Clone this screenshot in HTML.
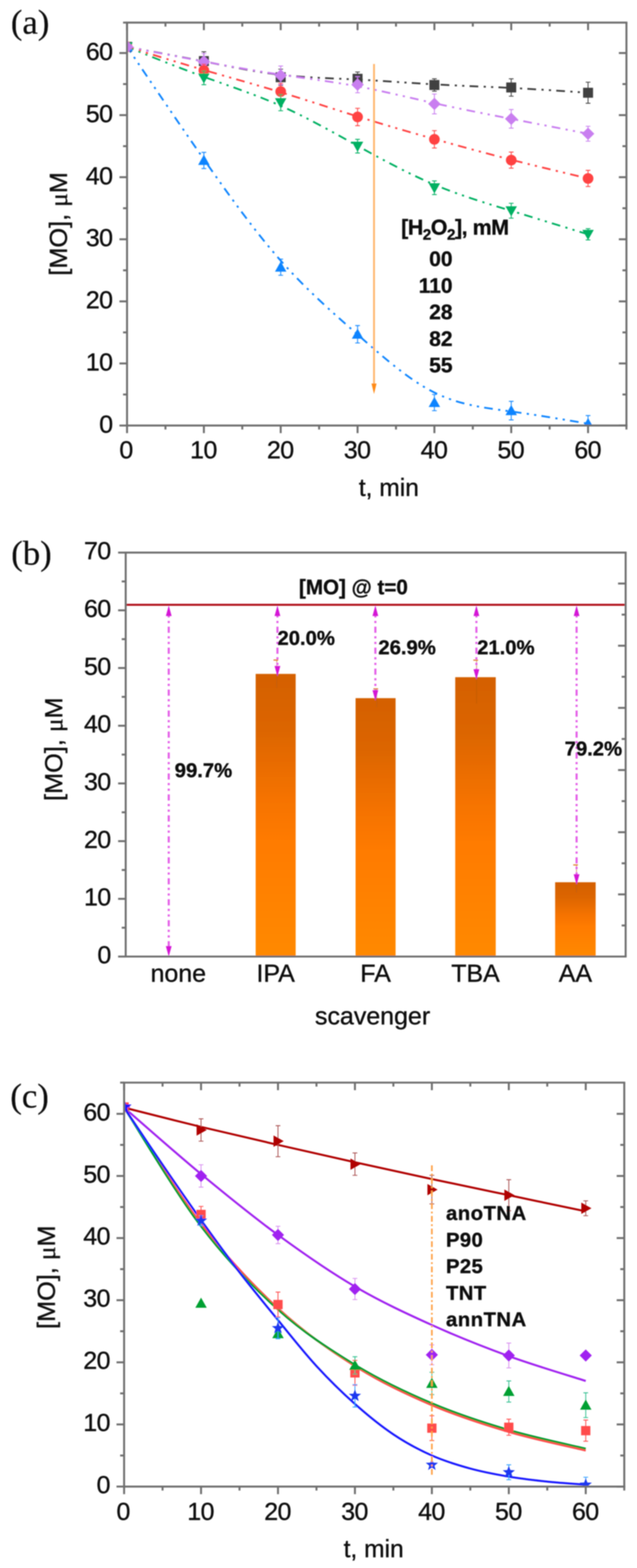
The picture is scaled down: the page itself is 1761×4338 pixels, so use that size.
<!DOCTYPE html>
<html lang="en"><head><meta charset="utf-8"><title>MO degradation figure</title>
<style>html,body{margin:0;padding:0;background:#fff}svg{display:block}</style></head><body>
<svg width="1761" height="4338" viewBox="0 0 1761 4338" role="img" aria-label="MO degradation charts">
<defs><linearGradient id="bar" x1="0" y1="0" x2="0" y2="1"><stop offset="0" stop-color="#d46000"/><stop offset="0.2" stop-color="#dc6500"/><stop offset="0.45" stop-color="#f67300"/><stop offset="0.6" stop-color="#ff7b00"/><stop offset="1" stop-color="#ff8900"/></linearGradient></defs>
<filter id="soft" filterUnits="userSpaceOnUse" x="0" y="0" width="1761" height="4338"><feGaussianBlur stdDeviation="1.4"/></filter>
<rect width="1761" height="4338" fill="#fff"/>
<g filter="url(#soft)">
<g id="chart-a">
<text x="30" y="93" font-family='"Liberation Serif", "Times New Roman", serif' font-size="96" font-weight="normal" text-anchor="start" fill="#0a0a0a"  stroke="#0a0a0a" stroke-width="0.5">(a)</text>
<clipPath id="clipA"><rect x="351.2" y="62.5" width="1380.6" height="1115.8"/></clipPath>
<g clip-path="url(#clipA)">
<path d="M351.2,129.5 C422,142.7 492.8,155.9 563.6,169.9 C634.4,183.9 705.2,198.8 776,207 C846.8,215.1 917.6,216.6 988.4,220.1 C1059.3,223.7 1130.1,229.4 1200.9,233.4 C1271.7,237.5 1342.5,239.7 1413.3,243.3 C1484.1,246.9 1554.9,251.8 1625.7,256.6" fill="none" stroke="#3f3f3f" stroke-width="5" stroke-dasharray="24 15 6 14.5 6 14.5" stroke-dashoffset="5"/>
<path d="M351.2,129.5 C422,143.3 492.8,157 563.6,170.2 C634.4,183.3 705.2,195.9 776,206.5 C846.8,217.1 917.6,225.7 988.4,238.9 C1059.3,252.1 1130.1,269.8 1200.9,285.5 C1271.7,301.3 1342.5,315 1413.3,328.8 C1484.1,342.5 1554.9,356.3 1625.7,370" fill="none" stroke="#c97ff0" stroke-width="5" stroke-dasharray="24 15 6 14.5 6 14.5" stroke-dashoffset="5"/>
<path d="M351.2,129.5 C422,151.3 492.8,173 563.6,193.6 C634.4,214.3 705.2,233.7 776,255.2 C846.8,276.7 917.6,300.1 988.4,322.2 C1059.3,344.2 1130.1,364.8 1200.9,384.7 C1271.7,404.6 1342.5,423.8 1413.3,441.9 C1484.1,459.9 1554.9,476.8 1625.7,493.7" fill="none" stroke="#ff4343" stroke-width="5" stroke-dasharray="24 15 6 14.5 6 14.5" stroke-dashoffset="5"/>
<path d="M351.2,129.5 C422,158.2 492.8,186.8 563.6,212.5 C634.4,238.3 705.2,261.2 776,292.7 C846.8,324.2 917.6,364.3 988.4,403.5 C1059.3,442.7 1130.1,481.1 1200.9,510.8 C1271.7,540.6 1342.5,561.8 1413.3,583.3 C1484.1,604.7 1554.9,626.5 1625.7,648.3" fill="none" stroke="#00b062" stroke-width="5" stroke-dasharray="24 15 6 14.5 6 14.5" stroke-dashoffset="5"/>
<path d="M351.2,129.5 C422,234.3 492.8,339.1 563.6,440.7 C634.4,542.3 705.2,640.8 776,721 C846.8,801.1 917.6,863 988.4,925.4 C1059.3,987.8 1130.1,1050.8 1200.9,1086 C1271.7,1121.2 1342.5,1128.6 1413.3,1138.4 C1484.1,1148.1 1554.9,1160.1 1625.7,1172.1" fill="none" stroke="#0a84ff" stroke-width="5" stroke-dasharray="24 15 6 14.5 6 14.5" stroke-dashoffset="5"/>
<rect x="337.4" y="115.7" width="27.6" height="27.6" fill="#3f3f3f"/>
<path d="M563.6,143.3 V194.8 M557.1,143.3 h13.0 M557.1,194.8 h13.0" stroke="#3f3f3f" stroke-width="2.4" fill="none"/>
<rect x="549.8" y="155.2" width="27.6" height="27.6" fill="#3f3f3f"/>
<path d="M776,191.4 V236 M769.5,191.4 h13.0 M769.5,236 h13.0" stroke="#3f3f3f" stroke-width="2.4" fill="none"/>
<rect x="762.2" y="199.9" width="27.6" height="27.6" fill="#3f3f3f"/>
<path d="M988.5,199.1 V236.9 M982,199.1 h13.0 M982,236.9 h13.0" stroke="#3f3f3f" stroke-width="2.4" fill="none"/>
<rect x="974.7" y="204.2" width="27.6" height="27.6" fill="#3f3f3f"/>
<path d="M1200.9,218 V252.3 M1194.4,218 h13.0 M1194.4,252.3 h13.0" stroke="#3f3f3f" stroke-width="2.4" fill="none"/>
<rect x="1187.1" y="221.4" width="27.6" height="27.6" fill="#3f3f3f"/>
<path d="M1413.3,218 V266.1 M1406.8,218 h13.0 M1406.8,266.1 h13.0" stroke="#3f3f3f" stroke-width="2.4" fill="none"/>
<rect x="1399.5" y="228.2" width="27.6" height="27.6" fill="#3f3f3f"/>
<path d="M1625.7,227.4 V285.8 M1619.2,227.4 h13.0 M1619.2,285.8 h13.0" stroke="#3f3f3f" stroke-width="2.4" fill="none"/>
<rect x="1611.9" y="242.8" width="27.6" height="27.6" fill="#3f3f3f"/>
<path d="M351.2,112.2 L368.5,129.5 L351.2,146.8 L333.9,129.5 Z" fill="#c97ff0"/>
<path d="M563.6,148.4 V193.1 M557.1,148.4 h13.0 M557.1,193.1 h13.0" stroke="#c97ff0" stroke-width="2.4" fill="none"/>
<path d="M563.6,153.4 L580.9,170.7 L563.6,188 L546.3,170.7 Z" fill="#c97ff0"/>
<path d="M776,182.8 V234.3 M769.5,182.8 h13.0 M769.5,234.3 h13.0" stroke="#c97ff0" stroke-width="2.4" fill="none"/>
<path d="M776,191.2 L793.3,208.5 L776,225.8 L758.7,208.5 Z" fill="#c97ff0"/>
<path d="M988.5,212 V256.6 M982,212 h13.0 M982,256.6 h13.0" stroke="#c97ff0" stroke-width="2.4" fill="none"/>
<path d="M988.5,217 L1005.8,234.3 L988.5,251.6 L971.2,234.3 Z" fill="#c97ff0"/>
<path d="M1200.9,260.1 V315 M1194.4,260.1 h13.0 M1194.4,315 h13.0" stroke="#c97ff0" stroke-width="2.4" fill="none"/>
<path d="M1200.9,270.2 L1218.2,287.5 L1200.9,304.8 L1183.6,287.5 Z" fill="#c97ff0"/>
<path d="M1413.3,303 V354.5 M1406.8,303 h13.0 M1406.8,354.5 h13.0" stroke="#c97ff0" stroke-width="2.4" fill="none"/>
<path d="M1413.3,311.5 L1430.6,328.8 L1413.3,346.1 L1396,328.8 Z" fill="#c97ff0"/>
<path d="M1625.7,349.4 V390.6 M1619.2,349.4 h13.0 M1619.2,390.6 h13.0" stroke="#c97ff0" stroke-width="2.4" fill="none"/>
<path d="M1625.7,352.7 L1643,370 L1625.7,387.3 L1608.4,370 Z" fill="#c97ff0"/>
<circle cx="351.2" cy="129.5" r="14.8" fill="#ff4343"/>
<path d="M563.6,177.6 V212 M557.1,177.6 h13.0 M557.1,212 h13.0" stroke="#ff4343" stroke-width="2.4" fill="none"/>
<circle cx="563.6" cy="194.8" r="14.8" fill="#ff4343"/>
<path d="M776,230.9 V275.5 M769.5,230.9 h13.0 M769.5,275.5 h13.0" stroke="#ff4343" stroke-width="2.4" fill="none"/>
<circle cx="776" cy="253.2" r="14.8" fill="#ff4343"/>
<path d="M988.5,299.6 V347.7 M982,299.6 h13.0 M982,347.7 h13.0" stroke="#ff4343" stroke-width="2.4" fill="none"/>
<circle cx="988.5" cy="323.6" r="14.8" fill="#ff4343"/>
<path d="M1200.9,361.4 V409.5 M1194.4,361.4 h13.0 M1194.4,409.5 h13.0" stroke="#ff4343" stroke-width="2.4" fill="none"/>
<circle cx="1200.9" cy="385.5" r="14.8" fill="#ff4343"/>
<path d="M1413.3,420.7 V465.3 M1406.8,420.7 h13.0 M1406.8,465.3 h13.0" stroke="#ff4343" stroke-width="2.4" fill="none"/>
<circle cx="1413.3" cy="443" r="14.8" fill="#ff4343"/>
<path d="M1625.7,471.3 V516 M1619.2,471.3 h13.0 M1619.2,516 h13.0" stroke="#ff4343" stroke-width="2.4" fill="none"/>
<circle cx="1625.7" cy="493.7" r="14.8" fill="#ff4343"/>
<path d="M351.2,145.3 L367,117.2 L335.4,117.2 Z" fill="#00b062"/>
<path d="M563.6,196.5 V234.3 M557.1,196.5 h13.0 M557.1,234.3 h13.0" stroke="#00b062" stroke-width="2.4" fill="none"/>
<path d="M563.6,231.2 L579.4,203.1 L547.8,203.1 Z" fill="#00b062"/>
<path d="M776,261.8 V306.4 M769.5,261.8 h13.0 M769.5,306.4 h13.0" stroke="#00b062" stroke-width="2.4" fill="none"/>
<path d="M776,299.9 L791.8,271.8 L760.2,271.8 Z" fill="#00b062"/>
<path d="M988.5,385.5 V423.2 M982,385.5 h13.0 M982,423.2 h13.0" stroke="#00b062" stroke-width="2.4" fill="none"/>
<path d="M988.5,420.2 L1004.2,392 L972.7,392 Z" fill="#00b062"/>
<path d="M1200.9,500.5 V538.3 M1194.4,500.5 h13.0 M1194.4,538.3 h13.0" stroke="#00b062" stroke-width="2.4" fill="none"/>
<path d="M1200.9,535.2 L1216.7,507.1 L1185.1,507.1 Z" fill="#00b062"/>
<path d="M1413.3,562.4 V603.6 M1406.8,562.4 h13.0 M1406.8,603.6 h13.0" stroke="#00b062" stroke-width="2.4" fill="none"/>
<path d="M1413.3,598.8 L1429.1,570.7 L1397.5,570.7 Z" fill="#00b062"/>
<path d="M1625.7,632.8 V663.7 M1619.2,632.8 h13.0 M1619.2,663.7 h13.0" stroke="#00b062" stroke-width="2.4" fill="none"/>
<path d="M1625.7,664.1 L1641.5,635.9 L1609.9,635.9 Z" fill="#00b062"/>
<path d="M351.2,113.7 L367,141.8 L335.4,141.8 Z" fill="#0a84ff"/>
<path d="M563.6,421.5 V466.2 M557.1,421.5 h13.0 M557.1,466.2 h13.0" stroke="#0a84ff" stroke-width="2.4" fill="none"/>
<path d="M563.6,428.1 L579.4,456.2 L547.8,456.2 Z" fill="#0a84ff"/>
<path d="M776,717 V761.6 M769.5,717 h13.0 M769.5,761.6 h13.0" stroke="#0a84ff" stroke-width="2.4" fill="none"/>
<path d="M776,723.5 L791.8,751.6 L760.2,751.6 Z" fill="#0a84ff"/>
<path d="M988.5,900.8 V948.9 M982,900.8 h13.0 M982,948.9 h13.0" stroke="#0a84ff" stroke-width="2.4" fill="none"/>
<path d="M988.5,909 L1004.2,937.1 L972.7,937.1 Z" fill="#0a84ff"/>
<path d="M1200.9,1091.4 V1136.1 M1194.4,1091.4 h13.0 M1194.4,1136.1 h13.0" stroke="#0a84ff" stroke-width="2.4" fill="none"/>
<path d="M1200.9,1097.9 L1216.7,1126.1 L1185.1,1126.1 Z" fill="#0a84ff"/>
<path d="M1413.3,1110.3 V1161.8 M1406.8,1110.3 h13.0 M1406.8,1161.8 h13.0" stroke="#0a84ff" stroke-width="2.4" fill="none"/>
<path d="M1413.3,1120.3 L1429.1,1148.4 L1397.5,1148.4 Z" fill="#0a84ff"/>
<path d="M1625.7,1149.8 V1194.5 M1619.2,1149.8 h13.0 M1619.2,1194.5 h13.0" stroke="#0a84ff" stroke-width="2.4" fill="none"/>
<path d="M1625.7,1156.3 L1641.5,1184.5 L1609.9,1184.5 Z" fill="#0a84ff"/>
<path d="M351.2,112.2 L368.5,129.5 L351.2,146.8 L333.9,129.5 Z" fill="#c97ff0"/>
</g>
<line x1="1034" y1="177" x2="1034" y2="1065" stroke="#ffb56b" stroke-width="5" />
<path d="M1027,1061 L1041,1061 L1034,1090 Z" fill="#ff8a14"/>
<line x1="348.5" y1="62.5" x2="1734.5" y2="62.5" stroke="#6e6e6e" stroke-width="5.4" />
<line x1="348.5" y1="1177.3" x2="1734.5" y2="1177.3" stroke="#6e6e6e" stroke-width="5.4" />
<line x1="351.2" y1="62.5" x2="351.2" y2="1177.3" stroke="#6e6e6e" stroke-width="5.4" />
<line x1="1731.8" y1="62.5" x2="1731.8" y2="1177.3" stroke="#6e6e6e" stroke-width="5.4" />
<line x1="340.2" y1="62.5" x2="351.2" y2="62.5" stroke="#6e6e6e" stroke-width="5.4" />
<line x1="1731.8" y1="1177.3" x2="1731.8" y2="1188.3" stroke="#6e6e6e" stroke-width="5.4" />
<line x1="330.2" y1="1177.3" x2="351.2" y2="1177.3" stroke="#6e6e6e" stroke-width="5.4" />
<line x1="1710.8" y1="1177.3" x2="1731.8" y2="1177.3" stroke="#6e6e6e" stroke-width="5.4" />
<text x="312.5" y="1196.7" font-family='"Liberation Sans", Arial, sans-serif' font-size="69" font-weight="normal" text-anchor="end" fill="#0a0a0a"  stroke="#0a0a0a" stroke-width="0.9">0</text>
<line x1="330.2" y1="1005.5" x2="351.2" y2="1005.5" stroke="#6e6e6e" stroke-width="5.4" />
<line x1="1710.8" y1="1005.5" x2="1731.8" y2="1005.5" stroke="#6e6e6e" stroke-width="5.4" />
<text x="310.9" y="1024.9" font-family='"Liberation Sans", Arial, sans-serif' font-size="69" font-weight="normal" text-anchor="end" fill="#0a0a0a" letter-spacing="-1.6" stroke="#0a0a0a" stroke-width="0.9">10</text>
<line x1="330.2" y1="833.8" x2="351.2" y2="833.8" stroke="#6e6e6e" stroke-width="5.4" />
<line x1="1710.8" y1="833.8" x2="1731.8" y2="833.8" stroke="#6e6e6e" stroke-width="5.4" />
<text x="310.9" y="853.2" font-family='"Liberation Sans", Arial, sans-serif' font-size="69" font-weight="normal" text-anchor="end" fill="#0a0a0a" letter-spacing="-1.6" stroke="#0a0a0a" stroke-width="0.9">20</text>
<line x1="330.2" y1="662" x2="351.2" y2="662" stroke="#6e6e6e" stroke-width="5.4" />
<line x1="1710.8" y1="662" x2="1731.8" y2="662" stroke="#6e6e6e" stroke-width="5.4" />
<text x="310.9" y="681.4" font-family='"Liberation Sans", Arial, sans-serif' font-size="69" font-weight="normal" text-anchor="end" fill="#0a0a0a" letter-spacing="-1.6" stroke="#0a0a0a" stroke-width="0.9">30</text>
<line x1="330.2" y1="490.2" x2="351.2" y2="490.2" stroke="#6e6e6e" stroke-width="5.4" />
<line x1="1710.8" y1="490.2" x2="1731.8" y2="490.2" stroke="#6e6e6e" stroke-width="5.4" />
<text x="310.9" y="509.6" font-family='"Liberation Sans", Arial, sans-serif' font-size="69" font-weight="normal" text-anchor="end" fill="#0a0a0a" letter-spacing="-1.6" stroke="#0a0a0a" stroke-width="0.9">40</text>
<line x1="330.2" y1="318.5" x2="351.2" y2="318.5" stroke="#6e6e6e" stroke-width="5.4" />
<line x1="1710.8" y1="318.5" x2="1731.8" y2="318.5" stroke="#6e6e6e" stroke-width="5.4" />
<text x="310.9" y="337.9" font-family='"Liberation Sans", Arial, sans-serif' font-size="69" font-weight="normal" text-anchor="end" fill="#0a0a0a" letter-spacing="-1.6" stroke="#0a0a0a" stroke-width="0.9">50</text>
<line x1="330.2" y1="146.7" x2="351.2" y2="146.7" stroke="#6e6e6e" stroke-width="5.4" />
<line x1="1710.8" y1="146.7" x2="1731.8" y2="146.7" stroke="#6e6e6e" stroke-width="5.4" />
<text x="310.9" y="166.1" font-family='"Liberation Sans", Arial, sans-serif' font-size="69" font-weight="normal" text-anchor="end" fill="#0a0a0a" letter-spacing="-1.6" stroke="#0a0a0a" stroke-width="0.9">60</text>
<line x1="340.2" y1="1091.4" x2="351.2" y2="1091.4" stroke="#6e6e6e" stroke-width="5.4" />
<line x1="1720.8" y1="1091.4" x2="1731.8" y2="1091.4" stroke="#6e6e6e" stroke-width="5.4" />
<line x1="340.2" y1="919.6" x2="351.2" y2="919.6" stroke="#6e6e6e" stroke-width="5.4" />
<line x1="1720.8" y1="919.6" x2="1731.8" y2="919.6" stroke="#6e6e6e" stroke-width="5.4" />
<line x1="340.2" y1="747.9" x2="351.2" y2="747.9" stroke="#6e6e6e" stroke-width="5.4" />
<line x1="1720.8" y1="747.9" x2="1731.8" y2="747.9" stroke="#6e6e6e" stroke-width="5.4" />
<line x1="340.2" y1="576.1" x2="351.2" y2="576.1" stroke="#6e6e6e" stroke-width="5.4" />
<line x1="1720.8" y1="576.1" x2="1731.8" y2="576.1" stroke="#6e6e6e" stroke-width="5.4" />
<line x1="340.2" y1="404.4" x2="351.2" y2="404.4" stroke="#6e6e6e" stroke-width="5.4" />
<line x1="1720.8" y1="404.4" x2="1731.8" y2="404.4" stroke="#6e6e6e" stroke-width="5.4" />
<line x1="340.2" y1="232.6" x2="351.2" y2="232.6" stroke="#6e6e6e" stroke-width="5.4" />
<line x1="1720.8" y1="232.6" x2="1731.8" y2="232.6" stroke="#6e6e6e" stroke-width="5.4" />
<line x1="351.2" y1="1177.3" x2="351.2" y2="1198.3" stroke="#6e6e6e" stroke-width="5.4" />
<line x1="351.2" y1="62.5" x2="351.2" y2="83.5" stroke="#6e6e6e" stroke-width="5.4" />
<text x="349.2" y="1268" font-family='"Liberation Sans", Arial, sans-serif' font-size="69" font-weight="normal" text-anchor="middle" fill="#0a0a0a"  stroke="#0a0a0a" stroke-width="0.9">0</text>
<line x1="563.6" y1="1177.3" x2="563.6" y2="1198.3" stroke="#6e6e6e" stroke-width="5.4" />
<line x1="563.6" y1="62.5" x2="563.6" y2="83.5" stroke="#6e6e6e" stroke-width="5.4" />
<text x="562.4" y="1268" font-family='"Liberation Sans", Arial, sans-serif' font-size="69" font-weight="normal" text-anchor="middle" fill="#0a0a0a" letter-spacing="-1.6" stroke="#0a0a0a" stroke-width="0.9">10</text>
<line x1="776" y1="1177.3" x2="776" y2="1198.3" stroke="#6e6e6e" stroke-width="5.4" />
<line x1="776" y1="62.5" x2="776" y2="83.5" stroke="#6e6e6e" stroke-width="5.4" />
<text x="774.8" y="1268" font-family='"Liberation Sans", Arial, sans-serif' font-size="69" font-weight="normal" text-anchor="middle" fill="#0a0a0a" letter-spacing="-1.6" stroke="#0a0a0a" stroke-width="0.9">20</text>
<line x1="988.5" y1="1177.3" x2="988.5" y2="1198.3" stroke="#6e6e6e" stroke-width="5.4" />
<line x1="988.5" y1="62.5" x2="988.5" y2="83.5" stroke="#6e6e6e" stroke-width="5.4" />
<text x="987.2" y="1268" font-family='"Liberation Sans", Arial, sans-serif' font-size="69" font-weight="normal" text-anchor="middle" fill="#0a0a0a" letter-spacing="-1.6" stroke="#0a0a0a" stroke-width="0.9">30</text>
<line x1="1200.9" y1="1177.3" x2="1200.9" y2="1198.3" stroke="#6e6e6e" stroke-width="5.4" />
<line x1="1200.9" y1="62.5" x2="1200.9" y2="83.5" stroke="#6e6e6e" stroke-width="5.4" />
<text x="1199.7" y="1268" font-family='"Liberation Sans", Arial, sans-serif' font-size="69" font-weight="normal" text-anchor="middle" fill="#0a0a0a" letter-spacing="-1.6" stroke="#0a0a0a" stroke-width="0.9">40</text>
<line x1="1413.3" y1="1177.3" x2="1413.3" y2="1198.3" stroke="#6e6e6e" stroke-width="5.4" />
<line x1="1413.3" y1="62.5" x2="1413.3" y2="83.5" stroke="#6e6e6e" stroke-width="5.4" />
<text x="1412.1" y="1268" font-family='"Liberation Sans", Arial, sans-serif' font-size="69" font-weight="normal" text-anchor="middle" fill="#0a0a0a" letter-spacing="-1.6" stroke="#0a0a0a" stroke-width="0.9">50</text>
<line x1="1625.7" y1="1177.3" x2="1625.7" y2="1198.3" stroke="#6e6e6e" stroke-width="5.4" />
<line x1="1625.7" y1="62.5" x2="1625.7" y2="83.5" stroke="#6e6e6e" stroke-width="5.4" />
<text x="1624.5" y="1268" font-family='"Liberation Sans", Arial, sans-serif' font-size="69" font-weight="normal" text-anchor="middle" fill="#0a0a0a" letter-spacing="-1.6" stroke="#0a0a0a" stroke-width="0.9">60</text>
<line x1="457.4" y1="1177.3" x2="457.4" y2="1188.3" stroke="#6e6e6e" stroke-width="5.4" />
<line x1="457.4" y1="62.5" x2="457.4" y2="73.5" stroke="#6e6e6e" stroke-width="5.4" />
<line x1="669.8" y1="1177.3" x2="669.8" y2="1188.3" stroke="#6e6e6e" stroke-width="5.4" />
<line x1="669.8" y1="62.5" x2="669.8" y2="73.5" stroke="#6e6e6e" stroke-width="5.4" />
<line x1="882.2" y1="1177.3" x2="882.2" y2="1188.3" stroke="#6e6e6e" stroke-width="5.4" />
<line x1="882.2" y1="62.5" x2="882.2" y2="73.5" stroke="#6e6e6e" stroke-width="5.4" />
<line x1="1094.7" y1="1177.3" x2="1094.7" y2="1188.3" stroke="#6e6e6e" stroke-width="5.4" />
<line x1="1094.7" y1="62.5" x2="1094.7" y2="73.5" stroke="#6e6e6e" stroke-width="5.4" />
<line x1="1307.1" y1="1177.3" x2="1307.1" y2="1188.3" stroke="#6e6e6e" stroke-width="5.4" />
<line x1="1307.1" y1="62.5" x2="1307.1" y2="73.5" stroke="#6e6e6e" stroke-width="5.4" />
<line x1="1519.5" y1="1177.3" x2="1519.5" y2="1188.3" stroke="#6e6e6e" stroke-width="5.4" />
<line x1="1519.5" y1="62.5" x2="1519.5" y2="73.5" stroke="#6e6e6e" stroke-width="5.4" />
<text x="1075" y="1372" font-family='"Liberation Sans", Arial, sans-serif' font-size="68" font-weight="normal" text-anchor="middle" fill="#0a0a0a"  stroke="#0a0a0a" stroke-width="0.9">t, min</text>
<text transform="translate(185,619.5) rotate(-90) scale(1.03,1)" font-family='"Liberation Sans", Arial, sans-serif' font-size="68" text-anchor="middle" fill="#0a0a0a" stroke="#0a0a0a" stroke-width="0.9">[MO], <tspan font-family='"Liberation Serif", "Times New Roman", serif'>μ</tspan>M</text>
<text x="1109" y="649" font-family='"Liberation Sans", Arial, sans-serif' font-size="59" font-weight="bold" letter-spacing="-1.2" fill="#0a0a0a" stroke="#0a0a0a" stroke-width="0.9">[H<tspan font-size="42" dy="14">2</tspan><tspan dy="-14">O</tspan><tspan font-size="42" dy="14">2</tspan><tspan dy="-14">], mM</tspan></text>
<text x="1251" y="736" font-family='"Liberation Sans", Arial, sans-serif' font-size="58" font-weight="bold" text-anchor="end" fill="#0a0a0a"  stroke="#0a0a0a" stroke-width="0.9">00</text>
<text x="1251" y="809.5" font-family='"Liberation Sans", Arial, sans-serif' font-size="58" font-weight="bold" text-anchor="end" fill="#0a0a0a"  stroke="#0a0a0a" stroke-width="0.9">110</text>
<text x="1251" y="883" font-family='"Liberation Sans", Arial, sans-serif' font-size="58" font-weight="bold" text-anchor="end" fill="#0a0a0a"  stroke="#0a0a0a" stroke-width="0.9">28</text>
<text x="1251" y="956.5" font-family='"Liberation Sans", Arial, sans-serif' font-size="58" font-weight="bold" text-anchor="end" fill="#0a0a0a"  stroke="#0a0a0a" stroke-width="0.9">82</text>
<text x="1251" y="1030" font-family='"Liberation Sans", Arial, sans-serif' font-size="58" font-weight="bold" text-anchor="end" fill="#0a0a0a"  stroke="#0a0a0a" stroke-width="0.9">55</text>
</g>
<g id="chart-b">
<text x="31" y="1561.5" font-family='"Liberation Serif", "Times New Roman", serif' font-size="96" font-weight="normal" text-anchor="start" fill="#0a0a0a"  stroke="#0a0a0a" stroke-width="0.5">(b)</text>
<rect x="706.8" y="1864.4" width="110.6" height="782" fill="url(#bar)"/>
<path d="M765.1,1826.1 V1902.7" stroke="#b85a10" stroke-width="2.4" stroke-opacity="0.6" fill="none"/>
<path d="M756.1,1826.1 h13" stroke="#e08030" stroke-width="3.4" fill="none"/>
<rect x="983" y="1931.5" width="110.6" height="714.9" fill="url(#bar)"/>
<path d="M1041.3,1905.9 V1957" stroke="#b85a10" stroke-width="2.4" stroke-opacity="0.6" fill="none"/>
<path d="M1032.3,1905.9 h13" stroke="#e08030" stroke-width="3.4" fill="none"/>
<rect x="1258.5" y="1873.5" width="112.0" height="772.9" fill="url(#bar)"/>
<path d="M1317.5,1826.4 V1946.9" stroke="#b85a10" stroke-width="2.4" stroke-opacity="0.6" fill="none"/>
<path d="M1308.5,1826.4 h13" stroke="#e08030" stroke-width="3.4" fill="none"/>
<rect x="1534.7" y="2440.8" width="112.0" height="205.6" fill="url(#bar)"/>
<path d="M1593.7,2392.9 V2469.5" stroke="#b85a10" stroke-width="2.4" stroke-opacity="0.6" fill="none"/>
<path d="M1584.7,2392.9 h13" stroke="#e08030" stroke-width="3.4" fill="none"/>
<line x1="347.5" y1="1673.3" x2="1729.6" y2="1673.3" stroke="#b00d18" stroke-width="5.6" />
<line x1="466.5" y1="1702.3" x2="466.5" y2="2624.4" stroke="#e45fe8" stroke-width="5.8" stroke-dasharray="17 9.5 6 9.5 6 10" stroke-dashoffset="26.5"/>
<path d="M466.5,1675.3 l8,29 h-16 Z" fill="#d416d6"/>
<path d="M466.5,2646.4 l8,-29 h-16 Z" fill="#d416d6"/>
<line x1="767" y1="1702.3" x2="767" y2="1849.4" stroke="#e45fe8" stroke-width="5.8" stroke-dasharray="17 9.5 6 9.5 6 10" stroke-dashoffset="26.5"/>
<path d="M767,1675.3 l8,29 h-16 Z" fill="#d416d6"/>
<path d="M767,1871.4 l8,-29 h-16 Z" fill="#d416d6"/>
<line x1="1037.7" y1="1702.3" x2="1037.7" y2="1916.5" stroke="#e45fe8" stroke-width="5.8" stroke-dasharray="17 9.5 6 9.5 6 10" stroke-dashoffset="26.5"/>
<path d="M1037.7,1675.3 l8,29 h-16 Z" fill="#d416d6"/>
<path d="M1037.7,1938.5 l8,-29 h-16 Z" fill="#d416d6"/>
<line x1="1317" y1="1702.3" x2="1317" y2="1858.5" stroke="#e45fe8" stroke-width="5.8" stroke-dasharray="17 9.5 6 9.5 6 10" stroke-dashoffset="26.5"/>
<path d="M1317,1675.3 l8,29 h-16 Z" fill="#d416d6"/>
<path d="M1317,1880.5 l8,-29 h-16 Z" fill="#d416d6"/>
<line x1="1594" y1="1702.3" x2="1594" y2="2425.8" stroke="#e45fe8" stroke-width="5.8" stroke-dasharray="17 9.5 6 9.5 6 10" stroke-dashoffset="26.5"/>
<path d="M1594,1675.3 l8,29 h-16 Z" fill="#d416d6"/>
<path d="M1594,2447.8 l8,-29 h-16 Z" fill="#d416d6"/>
<line x1="344.8" y1="1528.8" x2="1732.3" y2="1528.8" stroke="#6e6e6e" stroke-width="5.4" />
<line x1="344.8" y1="2646.4" x2="1732.3" y2="2646.4" stroke="#6e6e6e" stroke-width="5.4" />
<line x1="347.5" y1="1528.8" x2="347.5" y2="2646.4" stroke="#6e6e6e" stroke-width="5.4" />
<line x1="1729.6" y1="1528.8" x2="1729.6" y2="2646.4" stroke="#6e6e6e" stroke-width="5.4" />
<line x1="326.5" y1="2646.4" x2="347.5" y2="2646.4" stroke="#6e6e6e" stroke-width="5.4" />
<text x="307.5" y="2664.9" font-family='"Liberation Sans", Arial, sans-serif' font-size="69" font-weight="normal" text-anchor="end" fill="#0a0a0a"  stroke="#0a0a0a" stroke-width="0.9">0</text>
<line x1="326.5" y1="2486.7" x2="347.5" y2="2486.7" stroke="#6e6e6e" stroke-width="5.4" />
<text x="305.9" y="2505.2" font-family='"Liberation Sans", Arial, sans-serif' font-size="69" font-weight="normal" text-anchor="end" fill="#0a0a0a" letter-spacing="-1.6" stroke="#0a0a0a" stroke-width="0.9">10</text>
<line x1="326.5" y1="2327.1" x2="347.5" y2="2327.1" stroke="#6e6e6e" stroke-width="5.4" />
<text x="305.9" y="2345.6" font-family='"Liberation Sans", Arial, sans-serif' font-size="69" font-weight="normal" text-anchor="end" fill="#0a0a0a" letter-spacing="-1.6" stroke="#0a0a0a" stroke-width="0.9">20</text>
<line x1="326.5" y1="2167.4" x2="347.5" y2="2167.4" stroke="#6e6e6e" stroke-width="5.4" />
<text x="305.9" y="2185.9" font-family='"Liberation Sans", Arial, sans-serif' font-size="69" font-weight="normal" text-anchor="end" fill="#0a0a0a" letter-spacing="-1.6" stroke="#0a0a0a" stroke-width="0.9">30</text>
<line x1="326.5" y1="2007.8" x2="347.5" y2="2007.8" stroke="#6e6e6e" stroke-width="5.4" />
<text x="305.9" y="2026.3" font-family='"Liberation Sans", Arial, sans-serif' font-size="69" font-weight="normal" text-anchor="end" fill="#0a0a0a" letter-spacing="-1.6" stroke="#0a0a0a" stroke-width="0.9">40</text>
<line x1="326.5" y1="1848.1" x2="347.5" y2="1848.1" stroke="#6e6e6e" stroke-width="5.4" />
<text x="305.9" y="1866.6" font-family='"Liberation Sans", Arial, sans-serif' font-size="69" font-weight="normal" text-anchor="end" fill="#0a0a0a" letter-spacing="-1.6" stroke="#0a0a0a" stroke-width="0.9">50</text>
<line x1="326.5" y1="1688.5" x2="347.5" y2="1688.5" stroke="#6e6e6e" stroke-width="5.4" />
<text x="305.9" y="1707" font-family='"Liberation Sans", Arial, sans-serif' font-size="69" font-weight="normal" text-anchor="end" fill="#0a0a0a" letter-spacing="-1.6" stroke="#0a0a0a" stroke-width="0.9">60</text>
<line x1="326.5" y1="1528.8" x2="347.5" y2="1528.8" stroke="#6e6e6e" stroke-width="5.4" />
<text x="305.9" y="1547.3" font-family='"Liberation Sans", Arial, sans-serif' font-size="69" font-weight="normal" text-anchor="end" fill="#0a0a0a" letter-spacing="-1.6" stroke="#0a0a0a" stroke-width="0.9">70</text>
<line x1="336.5" y1="2566.6" x2="347.5" y2="2566.6" stroke="#6e6e6e" stroke-width="5.4" />
<line x1="336.5" y1="2406.9" x2="347.5" y2="2406.9" stroke="#6e6e6e" stroke-width="5.4" />
<line x1="336.5" y1="2247.3" x2="347.5" y2="2247.3" stroke="#6e6e6e" stroke-width="5.4" />
<line x1="336.5" y1="2087.6" x2="347.5" y2="2087.6" stroke="#6e6e6e" stroke-width="5.4" />
<line x1="336.5" y1="1927.9" x2="347.5" y2="1927.9" stroke="#6e6e6e" stroke-width="5.4" />
<line x1="336.5" y1="1768.3" x2="347.5" y2="1768.3" stroke="#6e6e6e" stroke-width="5.4" />
<line x1="336.5" y1="1608.6" x2="347.5" y2="1608.6" stroke="#6e6e6e" stroke-width="5.4" />
<line x1="1718.6" y1="2560.4" x2="1729.6" y2="2560.4" stroke="#6e6e6e" stroke-width="5.4" />
<line x1="1708.6" y1="2474.4" x2="1729.6" y2="2474.4" stroke="#6e6e6e" stroke-width="5.4" />
<line x1="1718.6" y1="2388.4" x2="1729.6" y2="2388.4" stroke="#6e6e6e" stroke-width="5.4" />
<line x1="1708.6" y1="2302.4" x2="1729.6" y2="2302.4" stroke="#6e6e6e" stroke-width="5.4" />
<line x1="1718.6" y1="2216.4" x2="1729.6" y2="2216.4" stroke="#6e6e6e" stroke-width="5.4" />
<line x1="1708.6" y1="2130.4" x2="1729.6" y2="2130.4" stroke="#6e6e6e" stroke-width="5.4" />
<line x1="1718.6" y1="2044.4" x2="1729.6" y2="2044.4" stroke="#6e6e6e" stroke-width="5.4" />
<line x1="1708.6" y1="1958.4" x2="1729.6" y2="1958.4" stroke="#6e6e6e" stroke-width="5.4" />
<line x1="1718.6" y1="1872.4" x2="1729.6" y2="1872.4" stroke="#6e6e6e" stroke-width="5.4" />
<line x1="1708.6" y1="1786.4" x2="1729.6" y2="1786.4" stroke="#6e6e6e" stroke-width="5.4" />
<line x1="1718.6" y1="1700.4" x2="1729.6" y2="1700.4" stroke="#6e6e6e" stroke-width="5.4" />
<line x1="1708.6" y1="1614.4" x2="1729.6" y2="1614.4" stroke="#6e6e6e" stroke-width="5.4" />
<text x="493" y="2716" font-family='"Liberation Sans", Arial, sans-serif' font-size="69" font-weight="normal" text-anchor="middle" fill="#0a0a0a"  stroke="#0a0a0a" stroke-width="0.9">none</text>
<text x="762.1" y="2716" font-family='"Liberation Sans", Arial, sans-serif' font-size="69" font-weight="normal" text-anchor="middle" fill="#0a0a0a"  stroke="#0a0a0a" stroke-width="0.9">IPA</text>
<text x="1038.3" y="2716" font-family='"Liberation Sans", Arial, sans-serif' font-size="69" font-weight="normal" text-anchor="middle" fill="#0a0a0a"  stroke="#0a0a0a" stroke-width="0.9">FA</text>
<text x="1314.5" y="2716" font-family='"Liberation Sans", Arial, sans-serif' font-size="69" font-weight="normal" text-anchor="middle" fill="#0a0a0a"  stroke="#0a0a0a" stroke-width="0.9">TBA</text>
<text x="1590.7" y="2716" font-family='"Liberation Sans", Arial, sans-serif' font-size="69" font-weight="normal" text-anchor="middle" fill="#0a0a0a"  stroke="#0a0a0a" stroke-width="0.9">AA</text>
<text x="1030" y="2834" font-family='"Liberation Sans", Arial, sans-serif' font-size="69" font-weight="normal" text-anchor="middle" fill="#0a0a0a"  stroke="#0a0a0a" stroke-width="0.9">scavenger</text>
<text transform="translate(172,2072.7) rotate(-90) scale(1.03,1)" font-family='"Liberation Sans", Arial, sans-serif' font-size="68" text-anchor="middle" fill="#0a0a0a" stroke="#0a0a0a" stroke-width="0.9">[MO], <tspan font-family='"Liberation Serif", "Times New Roman", serif'>μ</tspan>M</text>
<text x="977" y="1644" font-family='"Liberation Sans", Arial, sans-serif' font-size="57" font-weight="bold" text-anchor="middle" fill="#0a0a0a"  stroke="#0a0a0a" stroke-width="0.9">[MO] @ t=0</text>
<text x="483" y="2150" font-family='"Liberation Sans", Arial, sans-serif' font-size="56" font-weight="bold" text-anchor="start" fill="#0a0a0a"  stroke="#0a0a0a" stroke-width="0.9">99.7%</text>
<text x="767" y="1784" font-family='"Liberation Sans", Arial, sans-serif' font-size="56" font-weight="bold" text-anchor="start" fill="#0a0a0a"  stroke="#0a0a0a" stroke-width="0.9">20.0%</text>
<text x="1046" y="1810" font-family='"Liberation Sans", Arial, sans-serif' font-size="56" font-weight="bold" text-anchor="start" fill="#0a0a0a"  stroke="#0a0a0a" stroke-width="0.9">26.9%</text>
<text x="1319" y="1810" font-family='"Liberation Sans", Arial, sans-serif' font-size="56" font-weight="bold" text-anchor="start" fill="#0a0a0a"  stroke="#0a0a0a" stroke-width="0.9">21.0%</text>
<text x="1561" y="2090" font-family='"Liberation Sans", Arial, sans-serif' font-size="56" font-weight="bold" text-anchor="start" fill="#0a0a0a"  stroke="#0a0a0a" stroke-width="0.9">79.2%</text>
</g>
<g id="chart-c">
<text x="28.5" y="3064" font-family='"Liberation Serif", "Times New Roman", serif' font-size="96" font-weight="normal" text-anchor="start" fill="#0a0a0a"  stroke="#0a0a0a" stroke-width="0.5">(c)</text>
<clipPath id="clipC"><rect x="343.1" y="2995.1" width="1382.6999999999998" height="1118.6"/></clipPath>
<g clip-path="url(#clipC)">
<path d="M343.1,3064.3 C378.6,3073.2 484.9,3100.4 555.8,3117.6 C626.7,3134.8 697.6,3151.1 768.5,3167.4 C839.4,3183.8 910.3,3199.8 981.2,3215.6 C1052.1,3231.3 1123,3246.8 1193.9,3262 C1264.8,3277.1 1335.7,3291.8 1406.6,3306.6 C1477.5,3321.5 1583.8,3343.9 1619.3,3351.3" fill="none" stroke="#b00000" stroke-width="5.6"/>
<path d="M343.1,3064.3 C378.6,3095 484.9,3189.5 555.8,3248.2 C626.7,3306.9 697.6,3364.8 768.5,3416.6 C839.4,3468.5 910.3,3517.8 981.2,3559.3 C1052.1,3600.8 1123,3633.8 1193.9,3665.8 C1264.8,3697.9 1335.7,3726 1406.6,3751.8 C1477.5,3777.6 1583.8,3809.1 1619.3,3820.5" fill="none" stroke="#a020f0" stroke-width="5.6"/>
<path d="M343.1,3064.3 C378.6,3117.9 484.9,3293.2 555.8,3385.7 C626.7,3478.2 697.6,3553.8 768.5,3619.4 C839.4,3685 910.3,3734.6 981.2,3779.3 C1052.1,3824 1123,3857.2 1193.9,3887.6 C1264.8,3917.9 1335.7,3940.5 1406.6,3961.5 C1477.5,3982.4 1583.8,4004.4 1619.3,4013" fill="none" stroke="#ff4b4b" stroke-width="5.6"/>
<path d="M343.1,3064.3 C378.6,3119 484.9,3299.5 555.8,3392.6 C626.7,3485.7 697.6,3559 768.5,3622.9 C839.4,3686.8 910.3,3732.6 981.2,3775.8 C1052.1,3819.1 1123,3852.3 1193.9,3882.4 C1264.8,3912.5 1335.7,3935.4 1406.6,3956.3 C1477.5,3977.2 1583.8,3999.3 1619.3,4007.9" fill="none" stroke="#009a2e" stroke-width="5.6"/>
<path d="M343.1,3064.3 C360.8,3090.7 414,3170.6 449.4,3222.4 C484.9,3274.3 520.3,3325.8 555.8,3375.4 C591.2,3424.9 626.7,3473.6 662.1,3519.8 C697.6,3565.9 733,3608.8 768.5,3652.1 C804,3695.4 839.4,3740.6 874.9,3779.3 C910.3,3817.9 945.8,3852.6 981.2,3884.1 C1016.6,3915.6 1052.1,3944.6 1087.5,3968.3 C1123,3992.1 1158.4,4011 1193.9,4026.8 C1229.3,4042.5 1264.8,4053.1 1300.2,4062.9 C1335.7,4072.6 1371.1,4079.2 1406.6,4085.2 C1442,4091.2 1477.5,4095.2 1512.9,4099 C1548.4,4102.7 1601.6,4106.1 1619.3,4107.5" fill="none" stroke="#1616ff" stroke-width="5.6"/>
<path d="M358.9,3062.6 L330.8,3046.8 L330.8,3078.4 Z" fill="#b00000"/>
<path d="M343.1,3046.8 L358.9,3074.9 L327.3,3074.9 Z" fill="#00a032"/>
<path d="M343.1,3045.8 L359.9,3062.6 L343.1,3079.4 L326.3,3062.6 Z" fill="#a020f0"/>
<rect x="330.3" y="3049.8" width="25.6" height="25.6" fill="#ff4b4b"/>
<polygon points="343.1,3040.8 348.5,3055.2 363.8,3055.9 351.8,3065.4 355.9,3080.2 343.1,3071.8 330.3,3080.2 334.4,3065.4 322.4,3055.9 337.7,3055.2" fill="#1616ff"/>
<path d="M555.8,3095.2 V3157.1 M549.3,3095.2 h13.0 M549.3,3157.1 h13.0" stroke="#a85050" stroke-width="2.4" fill="none"/>
<path d="M571.6,3126.2 L543.5,3110.4 L543.5,3142 Z" fill="#b00000"/>
<path d="M768.5,3114.2 V3200.1 M762,3114.2 h13.0 M762,3200.1 h13.0" stroke="#a85050" stroke-width="2.4" fill="none"/>
<path d="M784.3,3157.1 L756.2,3141.3 L756.2,3172.9 Z" fill="#b00000"/>
<path d="M981.2,3189.8 V3251.6 M974.7,3189.8 h13.0 M974.7,3251.6 h13.0" stroke="#a85050" stroke-width="2.4" fill="none"/>
<path d="M997,3220.7 L968.9,3204.9 L968.9,3236.5 Z" fill="#b00000"/>
<path d="M1193.9,3251.6 V3330.7 M1187.4,3251.6 h13.0 M1187.4,3330.7 h13.0" stroke="#a85050" stroke-width="2.4" fill="none"/>
<path d="M1209.7,3291.2 L1181.6,3275.4 L1181.6,3307 Z" fill="#b00000"/>
<path d="M1406.6,3263.7 V3349.6 M1400.1,3263.7 h13.0 M1400.1,3349.6 h13.0" stroke="#a85050" stroke-width="2.4" fill="none"/>
<path d="M1422.4,3306.6 L1394.3,3290.8 L1394.3,3322.4 Z" fill="#b00000"/>
<path d="M1619.3,3322.1 V3363.4 M1612.8,3322.1 h13.0 M1612.8,3363.4 h13.0" stroke="#a85050" stroke-width="2.4" fill="none"/>
<path d="M1635.1,3342.7 L1607,3326.9 L1607,3358.5 Z" fill="#b00000"/>
<path d="M555.8,3222.4 V3284.3 M549.3,3222.4 h13.0 M549.3,3284.3 h13.0" stroke="#d890f0" stroke-width="2.4" fill="none"/>
<path d="M555.8,3236.6 L572.6,3253.4 L555.8,3270.2 L539,3253.4 Z" fill="#a020f0"/>
<path d="M768.5,3392.6 V3440.7 M762,3392.6 h13.0 M762,3440.7 h13.0" stroke="#d890f0" stroke-width="2.4" fill="none"/>
<path d="M768.5,3399.8 L785.3,3416.6 L768.5,3433.4 L751.7,3416.6 Z" fill="#a020f0"/>
<path d="M981.2,3536.9 V3595.4 M974.7,3536.9 h13.0 M974.7,3595.4 h13.0" stroke="#d890f0" stroke-width="2.4" fill="none"/>
<path d="M981.2,3549.4 L998,3566.2 L981.2,3583 L964.4,3566.2 Z" fill="#a020f0"/>
<path d="M1193.9,3720.8 V3775.8 M1187.4,3720.8 h13.0 M1187.4,3775.8 h13.0" stroke="#d890f0" stroke-width="2.4" fill="none"/>
<path d="M1193.9,3731.5 L1210.7,3748.3 L1193.9,3765.1 L1177.1,3748.3 Z" fill="#a020f0"/>
<path d="M1406.6,3715.7 V3784.4 M1400.1,3715.7 h13.0 M1400.1,3784.4 h13.0" stroke="#d890f0" stroke-width="2.4" fill="none"/>
<path d="M1406.6,3733.3 L1423.4,3750.1 L1406.6,3766.9 L1389.8,3750.1 Z" fill="#a020f0"/>
<path d="M1619.3,3733.3 L1636.1,3750.1 L1619.3,3766.9 L1602.5,3750.1 Z" fill="#a020f0"/>
<path d="M555.8,3337.6 V3382.3 M549.3,3337.6 h13.0 M549.3,3382.3 h13.0" stroke="#ff4b4b" stroke-width="2.4" fill="none"/>
<rect x="543" y="3347.1" width="25.6" height="25.6" fill="#ff4b4b"/>
<path d="M768.5,3574.8 V3643.5 M762,3574.8 h13.0 M762,3643.5 h13.0" stroke="#ff4b4b" stroke-width="2.4" fill="none"/>
<rect x="755.7" y="3596.3" width="25.6" height="25.6" fill="#ff4b4b"/>
<path d="M981.2,3763.8 V3832.6 M974.7,3763.8 h13.0 M974.7,3832.6 h13.0" stroke="#ff4b4b" stroke-width="2.4" fill="none"/>
<rect x="968.4" y="3785.4" width="25.6" height="25.6" fill="#ff4b4b"/>
<path d="M1193.9,3916.8 V3985.5 M1187.4,3916.8 h13.0 M1187.4,3985.5 h13.0" stroke="#ff4b4b" stroke-width="2.4" fill="none"/>
<rect x="1181.1" y="3938.3" width="25.6" height="25.6" fill="#ff4b4b"/>
<path d="M1406.6,3926.2 V3970.9 M1400.1,3926.2 h13.0 M1400.1,3970.9 h13.0" stroke="#ff4b4b" stroke-width="2.4" fill="none"/>
<rect x="1393.8" y="3935.8" width="25.6" height="25.6" fill="#ff4b4b"/>
<path d="M1619.3,3928.8 V3987.2 M1612.8,3928.8 h13.0 M1612.8,3987.2 h13.0" stroke="#ff4b4b" stroke-width="2.4" fill="none"/>
<rect x="1606.5" y="3945.2" width="25.6" height="25.6" fill="#ff4b4b"/>
<path d="M555.8,3589.9 L571.6,3618 L540,3618 Z" fill="#00a032"/>
<path d="M768.5,3676.2 V3703.7 M762,3676.2 h13.0 M762,3703.7 h13.0" stroke="#30c090" stroke-width="2.4" fill="none"/>
<path d="M768.5,3674.1 L784.3,3702.2 L752.7,3702.2 Z" fill="#00a032"/>
<path d="M981.2,3753.5 V3801.6 M974.7,3753.5 h13.0 M974.7,3801.6 h13.0" stroke="#30c090" stroke-width="2.4" fill="none"/>
<path d="M981.2,3761.8 L997,3789.9 L965.4,3789.9 Z" fill="#00a032"/>
<path d="M1193.9,3796.5 V3858.3 M1187.4,3796.5 h13.0 M1187.4,3858.3 h13.0" stroke="#30c090" stroke-width="2.4" fill="none"/>
<path d="M1193.9,3811.6 L1209.7,3839.7 L1178.1,3839.7 Z" fill="#00a032"/>
<path d="M1406.6,3820.5 V3879 M1400.1,3820.5 h13.0 M1400.1,3879 h13.0" stroke="#30c090" stroke-width="2.4" fill="none"/>
<path d="M1406.6,3833.9 L1422.4,3862.1 L1390.8,3862.1 Z" fill="#00a032"/>
<path d="M1619.3,3853.2 V3921.9 M1612.8,3853.2 h13.0 M1612.8,3921.9 h13.0" stroke="#30c090" stroke-width="2.4" fill="none"/>
<path d="M1619.3,3871.8 L1635.1,3899.9 L1603.5,3899.9 Z" fill="#00a032"/>
<path d="M555.8,3363.4 V3390.9 M549.3,3363.4 h13.0 M549.3,3390.9 h13.0" stroke="#30a0ff" stroke-width="2.4" fill="none"/>
<polygon points="555.8,3359.3 560.2,3371.1 572.7,3371.6 562.9,3379.4 566.3,3391.5 555.8,3384.6 545.3,3391.5 548.7,3379.4 538.9,3371.6 551.4,3371.1" fill="#1a38f0"/>
<path d="M768.5,3645.2 V3703.7 M762,3645.2 h13.0 M762,3703.7 h13.0" stroke="#30a0ff" stroke-width="2.4" fill="none"/>
<polygon points="768.5,3656.6 772.9,3668.4 785.4,3668.9 775.6,3676.8 779,3688.8 768.5,3681.9 758,3688.8 761.4,3676.8 751.6,3668.9 764.1,3668.4" fill="#1a38f0"/>
<path d="M981.2,3830.8 V3892.7 M974.7,3830.8 h13.0 M974.7,3892.7 h13.0" stroke="#30a0ff" stroke-width="2.4" fill="none"/>
<polygon points="981.2,3844 985.6,3855.7 998.1,3856.3 988.3,3864.1 991.7,3876.2 981.2,3869.3 970.7,3876.2 974.1,3864.1 964.3,3856.3 976.8,3855.7" fill="#1a38f0"/>
<polygon points="1193.9,4034.7 1198.3,4046.5 1210.8,4047 1201,4054.9 1204.4,4066.9 1193.9,4060 1183.4,4066.9 1186.8,4054.9 1177,4047 1189.5,4046.5" fill="#1a38f0"/>
<path d="M1406.6,4052.5 V4093.8 M1400.1,4052.5 h13.0 M1400.1,4093.8 h13.0" stroke="#30a0ff" stroke-width="2.4" fill="none"/>
<polygon points="1406.6,4055.4 1411,4067.1 1423.5,4067.7 1413.7,4075.5 1417.1,4087.6 1406.6,4080.6 1396.1,4087.6 1399.5,4075.5 1389.7,4067.7 1402.2,4067.1" fill="#1a38f0"/>
<path d="M1619.3,4086.9 V4128.2 M1612.8,4086.9 h13.0 M1612.8,4128.2 h13.0" stroke="#30a0ff" stroke-width="2.4" fill="none"/>
<polygon points="1619.3,4089.7 1623.7,4101.5 1636.2,4102 1626.4,4109.9 1629.8,4121.9 1619.3,4115 1608.8,4121.9 1612.2,4109.9 1602.4,4102 1614.9,4101.5" fill="#1a38f0"/>
</g>
<line x1="1193.9" y1="3224" x2="1193.9" y2="4084" stroke="#ffa044" stroke-width="4.6" stroke-dasharray="16 7 5 7"/>
<line x1="340.4" y1="2995.1" x2="1728.5" y2="2995.1" stroke="#6e6e6e" stroke-width="5.4" />
<line x1="340.4" y1="4112.7" x2="1728.5" y2="4112.7" stroke="#6e6e6e" stroke-width="5.4" />
<line x1="343.1" y1="2995.1" x2="343.1" y2="4112.7" stroke="#6e6e6e" stroke-width="5.4" />
<line x1="1725.8" y1="2995.1" x2="1725.8" y2="4112.7" stroke="#6e6e6e" stroke-width="5.4" />
<line x1="332.1" y1="2995.1" x2="343.1" y2="2995.1" stroke="#6e6e6e" stroke-width="5.4" />
<line x1="1725.8" y1="4112.7" x2="1725.8" y2="4123.7" stroke="#6e6e6e" stroke-width="5.4" />
<line x1="322.1" y1="4112.7" x2="343.1" y2="4112.7" stroke="#6e6e6e" stroke-width="5.4" />
<line x1="1704.8" y1="4112.7" x2="1725.8" y2="4112.7" stroke="#6e6e6e" stroke-width="5.4" />
<text x="305.4" y="4130.8" font-family='"Liberation Sans", Arial, sans-serif' font-size="69" font-weight="normal" text-anchor="end" fill="#0a0a0a"  stroke="#0a0a0a" stroke-width="0.9">0</text>
<line x1="322.1" y1="3940.8" x2="343.1" y2="3940.8" stroke="#6e6e6e" stroke-width="5.4" />
<line x1="1704.8" y1="3940.8" x2="1725.8" y2="3940.8" stroke="#6e6e6e" stroke-width="5.4" />
<text x="303.8" y="3958.9" font-family='"Liberation Sans", Arial, sans-serif' font-size="69" font-weight="normal" text-anchor="end" fill="#0a0a0a" letter-spacing="-1.6" stroke="#0a0a0a" stroke-width="0.9">10</text>
<line x1="322.1" y1="3769" x2="343.1" y2="3769" stroke="#6e6e6e" stroke-width="5.4" />
<line x1="1704.8" y1="3769" x2="1725.8" y2="3769" stroke="#6e6e6e" stroke-width="5.4" />
<text x="303.8" y="3787.1" font-family='"Liberation Sans", Arial, sans-serif' font-size="69" font-weight="normal" text-anchor="end" fill="#0a0a0a" letter-spacing="-1.6" stroke="#0a0a0a" stroke-width="0.9">20</text>
<line x1="322.1" y1="3597.1" x2="343.1" y2="3597.1" stroke="#6e6e6e" stroke-width="5.4" />
<line x1="1704.8" y1="3597.1" x2="1725.8" y2="3597.1" stroke="#6e6e6e" stroke-width="5.4" />
<text x="303.8" y="3615.2" font-family='"Liberation Sans", Arial, sans-serif' font-size="69" font-weight="normal" text-anchor="end" fill="#0a0a0a" letter-spacing="-1.6" stroke="#0a0a0a" stroke-width="0.9">30</text>
<line x1="322.1" y1="3425.2" x2="343.1" y2="3425.2" stroke="#6e6e6e" stroke-width="5.4" />
<line x1="1704.8" y1="3425.2" x2="1725.8" y2="3425.2" stroke="#6e6e6e" stroke-width="5.4" />
<text x="303.8" y="3443.3" font-family='"Liberation Sans", Arial, sans-serif' font-size="69" font-weight="normal" text-anchor="end" fill="#0a0a0a" letter-spacing="-1.6" stroke="#0a0a0a" stroke-width="0.9">40</text>
<line x1="322.1" y1="3253.4" x2="343.1" y2="3253.4" stroke="#6e6e6e" stroke-width="5.4" />
<line x1="1704.8" y1="3253.4" x2="1725.8" y2="3253.4" stroke="#6e6e6e" stroke-width="5.4" />
<text x="303.8" y="3271.5" font-family='"Liberation Sans", Arial, sans-serif' font-size="69" font-weight="normal" text-anchor="end" fill="#0a0a0a" letter-spacing="-1.6" stroke="#0a0a0a" stroke-width="0.9">50</text>
<line x1="322.1" y1="3081.5" x2="343.1" y2="3081.5" stroke="#6e6e6e" stroke-width="5.4" />
<line x1="1704.8" y1="3081.5" x2="1725.8" y2="3081.5" stroke="#6e6e6e" stroke-width="5.4" />
<text x="303.8" y="3099.6" font-family='"Liberation Sans", Arial, sans-serif' font-size="69" font-weight="normal" text-anchor="end" fill="#0a0a0a" letter-spacing="-1.6" stroke="#0a0a0a" stroke-width="0.9">60</text>
<line x1="332.1" y1="4026.8" x2="343.1" y2="4026.8" stroke="#6e6e6e" stroke-width="5.4" />
<line x1="1714.8" y1="4026.8" x2="1725.8" y2="4026.8" stroke="#6e6e6e" stroke-width="5.4" />
<line x1="332.1" y1="3854.9" x2="343.1" y2="3854.9" stroke="#6e6e6e" stroke-width="5.4" />
<line x1="1714.8" y1="3854.9" x2="1725.8" y2="3854.9" stroke="#6e6e6e" stroke-width="5.4" />
<line x1="332.1" y1="3683" x2="343.1" y2="3683" stroke="#6e6e6e" stroke-width="5.4" />
<line x1="1714.8" y1="3683" x2="1725.8" y2="3683" stroke="#6e6e6e" stroke-width="5.4" />
<line x1="332.1" y1="3511.2" x2="343.1" y2="3511.2" stroke="#6e6e6e" stroke-width="5.4" />
<line x1="1714.8" y1="3511.2" x2="1725.8" y2="3511.2" stroke="#6e6e6e" stroke-width="5.4" />
<line x1="332.1" y1="3339.3" x2="343.1" y2="3339.3" stroke="#6e6e6e" stroke-width="5.4" />
<line x1="1714.8" y1="3339.3" x2="1725.8" y2="3339.3" stroke="#6e6e6e" stroke-width="5.4" />
<line x1="332.1" y1="3167.4" x2="343.1" y2="3167.4" stroke="#6e6e6e" stroke-width="5.4" />
<line x1="1714.8" y1="3167.4" x2="1725.8" y2="3167.4" stroke="#6e6e6e" stroke-width="5.4" />
<line x1="343.1" y1="4112.7" x2="343.1" y2="4133.7" stroke="#6e6e6e" stroke-width="5.4" />
<line x1="343.1" y1="2995.1" x2="343.1" y2="3016.1" stroke="#6e6e6e" stroke-width="5.4" />
<text x="341.1" y="4205" font-family='"Liberation Sans", Arial, sans-serif' font-size="69" font-weight="normal" text-anchor="middle" fill="#0a0a0a"  stroke="#0a0a0a" stroke-width="0.9">0</text>
<line x1="555.8" y1="4112.7" x2="555.8" y2="4133.7" stroke="#6e6e6e" stroke-width="5.4" />
<line x1="555.8" y1="2995.1" x2="555.8" y2="3016.1" stroke="#6e6e6e" stroke-width="5.4" />
<text x="554.6" y="4205" font-family='"Liberation Sans", Arial, sans-serif' font-size="69" font-weight="normal" text-anchor="middle" fill="#0a0a0a" letter-spacing="-1.6" stroke="#0a0a0a" stroke-width="0.9">10</text>
<line x1="768.5" y1="4112.7" x2="768.5" y2="4133.7" stroke="#6e6e6e" stroke-width="5.4" />
<line x1="768.5" y1="2995.1" x2="768.5" y2="3016.1" stroke="#6e6e6e" stroke-width="5.4" />
<text x="767.3" y="4205" font-family='"Liberation Sans", Arial, sans-serif' font-size="69" font-weight="normal" text-anchor="middle" fill="#0a0a0a" letter-spacing="-1.6" stroke="#0a0a0a" stroke-width="0.9">20</text>
<line x1="981.2" y1="4112.7" x2="981.2" y2="4133.7" stroke="#6e6e6e" stroke-width="5.4" />
<line x1="981.2" y1="2995.1" x2="981.2" y2="3016.1" stroke="#6e6e6e" stroke-width="5.4" />
<text x="980" y="4205" font-family='"Liberation Sans", Arial, sans-serif' font-size="69" font-weight="normal" text-anchor="middle" fill="#0a0a0a" letter-spacing="-1.6" stroke="#0a0a0a" stroke-width="0.9">30</text>
<line x1="1193.9" y1="4112.7" x2="1193.9" y2="4133.7" stroke="#6e6e6e" stroke-width="5.4" />
<line x1="1193.9" y1="2995.1" x2="1193.9" y2="3016.1" stroke="#6e6e6e" stroke-width="5.4" />
<text x="1192.7" y="4205" font-family='"Liberation Sans", Arial, sans-serif' font-size="69" font-weight="normal" text-anchor="middle" fill="#0a0a0a" letter-spacing="-1.6" stroke="#0a0a0a" stroke-width="0.9">40</text>
<line x1="1406.6" y1="4112.7" x2="1406.6" y2="4133.7" stroke="#6e6e6e" stroke-width="5.4" />
<line x1="1406.6" y1="2995.1" x2="1406.6" y2="3016.1" stroke="#6e6e6e" stroke-width="5.4" />
<text x="1405.4" y="4205" font-family='"Liberation Sans", Arial, sans-serif' font-size="69" font-weight="normal" text-anchor="middle" fill="#0a0a0a" letter-spacing="-1.6" stroke="#0a0a0a" stroke-width="0.9">50</text>
<line x1="1619.3" y1="4112.7" x2="1619.3" y2="4133.7" stroke="#6e6e6e" stroke-width="5.4" />
<line x1="1619.3" y1="2995.1" x2="1619.3" y2="3016.1" stroke="#6e6e6e" stroke-width="5.4" />
<text x="1618.1" y="4205" font-family='"Liberation Sans", Arial, sans-serif' font-size="69" font-weight="normal" text-anchor="middle" fill="#0a0a0a" letter-spacing="-1.6" stroke="#0a0a0a" stroke-width="0.9">60</text>
<line x1="449.4" y1="4112.7" x2="449.4" y2="4123.7" stroke="#6e6e6e" stroke-width="5.4" />
<line x1="449.4" y1="2995.1" x2="449.4" y2="3006.1" stroke="#6e6e6e" stroke-width="5.4" />
<line x1="662.1" y1="4112.7" x2="662.1" y2="4123.7" stroke="#6e6e6e" stroke-width="5.4" />
<line x1="662.1" y1="2995.1" x2="662.1" y2="3006.1" stroke="#6e6e6e" stroke-width="5.4" />
<line x1="874.9" y1="4112.7" x2="874.9" y2="4123.7" stroke="#6e6e6e" stroke-width="5.4" />
<line x1="874.9" y1="2995.1" x2="874.9" y2="3006.1" stroke="#6e6e6e" stroke-width="5.4" />
<line x1="1087.5" y1="4112.7" x2="1087.5" y2="4123.7" stroke="#6e6e6e" stroke-width="5.4" />
<line x1="1087.5" y1="2995.1" x2="1087.5" y2="3006.1" stroke="#6e6e6e" stroke-width="5.4" />
<line x1="1300.2" y1="4112.7" x2="1300.2" y2="4123.7" stroke="#6e6e6e" stroke-width="5.4" />
<line x1="1300.2" y1="2995.1" x2="1300.2" y2="3006.1" stroke="#6e6e6e" stroke-width="5.4" />
<line x1="1512.9" y1="4112.7" x2="1512.9" y2="4123.7" stroke="#6e6e6e" stroke-width="5.4" />
<line x1="1512.9" y1="2995.1" x2="1512.9" y2="3006.1" stroke="#6e6e6e" stroke-width="5.4" />
<text x="1033" y="4308" font-family='"Liberation Sans", Arial, sans-serif' font-size="68" font-weight="normal" text-anchor="middle" fill="#0a0a0a"  stroke="#0a0a0a" stroke-width="0.9">t, min</text>
<text transform="translate(151.7,3533.6) rotate(-90) scale(1.03,1)" font-family='"Liberation Sans", Arial, sans-serif' font-size="68" text-anchor="middle" fill="#0a0a0a" stroke="#0a0a0a" stroke-width="0.9">[MO], <tspan font-family='"Liberation Serif", "Times New Roman", serif'>μ</tspan>M</text>
<text x="1233" y="3375" font-family='"Liberation Sans", Arial, sans-serif' font-size="56" font-weight="bold" text-anchor="start" fill="#0a0a0a" letter-spacing="1.4" stroke="#0a0a0a" stroke-width="0.9">anoTNA</text>
<text x="1233" y="3448.5" font-family='"Liberation Sans", Arial, sans-serif' font-size="56" font-weight="bold" text-anchor="start" fill="#0a0a0a" letter-spacing="1" stroke="#0a0a0a" stroke-width="0.9">P90</text>
<text x="1233" y="3522" font-family='"Liberation Sans", Arial, sans-serif' font-size="56" font-weight="bold" text-anchor="start" fill="#0a0a0a" letter-spacing="1" stroke="#0a0a0a" stroke-width="0.9">P25</text>
<text x="1233" y="3595.5" font-family='"Liberation Sans", Arial, sans-serif' font-size="56" font-weight="bold" text-anchor="start" fill="#0a0a0a" letter-spacing="1" stroke="#0a0a0a" stroke-width="0.9">TNT</text>
<text x="1233" y="3669" font-family='"Liberation Sans", Arial, sans-serif' font-size="56" font-weight="bold" text-anchor="start" fill="#0a0a0a" letter-spacing="1.4" stroke="#0a0a0a" stroke-width="0.9">annTNA</text>
</g>
</g>
</svg></body></html>
